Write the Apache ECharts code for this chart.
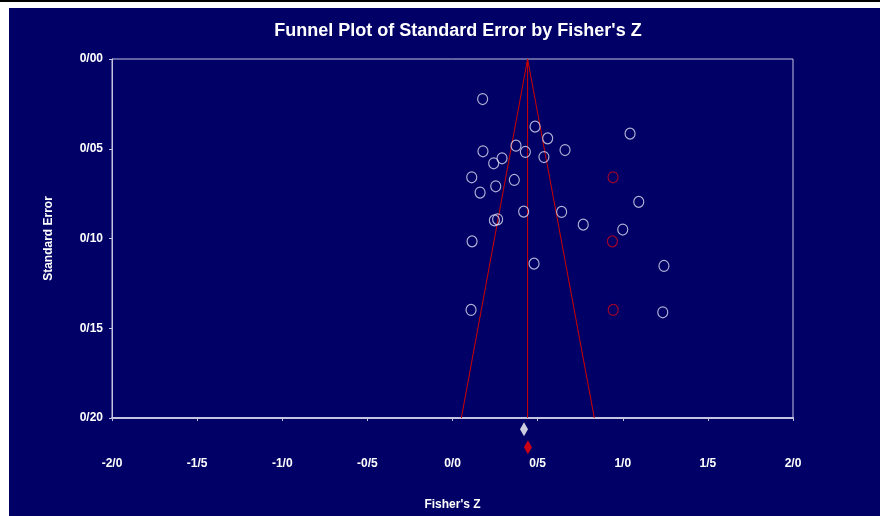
<!DOCTYPE html>
<html>
<head>
<meta charset="utf-8">
<script src="https://cdn.jsdelivr.net/npm/echarts@6/dist/echarts.min.js"></script>
<style>
html,body{margin:0;padding:0;background:#fff;}
#chart{width:880px;height:516px;}
</style>
</head>
<body>
<div id="chart"></div>
<script>
// Observed studies: [Fisher's Z, Standard Error]
var observedStudies = [
  [0.177,0.0223],[0.485,0.0377],[0.559,0.0442],[0.373,0.0483],[0.179,0.0514],
  [0.428,0.0518],[0.661,0.0507],[0.537,0.0546],[0.291,0.0553],[0.242,0.0581],
  [1.043,0.0416],[0.113,0.0659],[0.363,0.0674],[0.254,0.0709],[0.162,0.0744],
  [1.094,0.0796],[0.418,0.0850],[0.641,0.0852],[0.246,0.0899],[0.265,0.0893],
  [0.768,0.0923],[1.000,0.0950],[0.115,0.1016],[0.479,0.1140],[1.242,0.1153],
  [0.109,0.1398],[1.235,0.1411]
];
// Imputed studies (red)
var imputedStudies = [
  [0.943,0.0659],[0.939,0.1016],[0.944,0.1398]
];
// Funnel boundary
var funnelLines = [[0.052,0.20],[0.441,0.00],[0.833,0.20]];
var centerLine = [[0.441,0.00],[0.441,0.20]];
// Summary diamonds below the axis
var observedSummary = [[0.420,0.2062]];
var adjustedSummary = [[0.443,0.2163]];
var xTickLabels = ['-2/0','-1/5','-1/0','-0/5','0/0','0/5','1/0','1/5','2/0'];
var yTickLabels = ['0/00','0/05','0/10','0/15','0/20'];

var chart = echarts.init(document.getElementById('chart'));
var font = '"Liberation Sans Narrow", "Liberation Sans", Arial, sans-serif';
var axisCol = '#c4c4e0';
chart.setOption({
  backgroundColor: '#000066',
  animation: false,
  title: {
    text: "Funnel Plot of Standard Error by Fisher's Z",
    left: 453, top: 17, textAlign: 'center',
    textStyle: {color:'#ffffff', fontFamily: font, fontWeight:'bold', fontSize:18}
  },
  graphic: [
    {type:'rect', left:0, top:0, shape:{width:9, height:516}, style:{fill:'#ffffff'}, z:100},
    {type:'rect', left:0, top:0, shape:{width:880, height:8}, style:{fill:'#ffffff'}, z:100},
    {type:'rect', left:0, top:0, shape:{width:880, height:2}, style:{fill:'#000000'}, z:101}
  ],
  grid: {left:112, right:87, top:59, bottom:97, show:true, borderColor:axisCol, borderWidth:1, backgroundColor:'transparent'},
  xAxis: {
    type:'value', min:-2, max:2, interval:0.5,
    name:"Fisher's Z", nameLocation:'middle', nameGap:81,
    nameTextStyle:{color:'#ffffff', fontFamily:font, fontWeight:'bold', fontSize:12},
    axisLine:{show:true, onZero:false, lineStyle:{color:axisCol, width:2}},
    axisTick:{show:true, length:3, lineStyle:{color:axisCol}},
    splitLine:{show:false},
    axisLabel:{color:'#ffffff', fontFamily:font, fontWeight:'bold', fontSize:12, margin:40,
      formatter:function(v,i){return xTickLabels[i];}}
  },
  yAxis: {
    type:'value', min:0, max:0.2, interval:0.05, inverse:true,
    name:'Standard Error', nameLocation:'middle', nameGap:57, nameRotate:90,
    nameTextStyle:{color:'#ffffff', fontFamily:font, fontWeight:'bold', fontSize:12},
    axisLine:{show:true, onZero:false, lineStyle:{color:axisCol, width:1}},
    axisTick:{show:true, length:3, lineStyle:{color:axisCol}},
    splitLine:{show:false},
    axisLabel:{color:'#ffffff', fontFamily:font, fontWeight:'bold', fontSize:12, margin:9,
      formatter:function(v,i){return yTickLabels[i];}}
  },
  series: [
    {type:'line', data:funnelLines, symbol:'none', lineStyle:{color:'#d00000', width:1}, z:2},
    {type:'line', data:centerLine, symbol:'none', lineStyle:{color:'#d00000', width:1}, z:2},
    {type:'scatter', data:observedStudies, symbol:'circle', symbolSize:[10,11],
      itemStyle:{color:'transparent', borderColor:'#dcdcf2', borderWidth:1.2}, z:3},
    {type:'scatter', data:imputedStudies, symbol:'circle', symbolSize:[10,11],
      itemStyle:{color:'transparent', borderColor:'#c8001e', borderWidth:1.2}, z:3},
    {type:'scatter', data:observedSummary, symbol:'diamond', symbolSize:[8,14], clip:false,
      itemStyle:{color:'#ffffff'}, z:4},
    {type:'scatter', data:adjustedSummary, symbol:'diamond', symbolSize:[8,14], clip:false,
      itemStyle:{color:'#ff0000'}, z:4}
  ]
});
</script>
</body>
</html>
